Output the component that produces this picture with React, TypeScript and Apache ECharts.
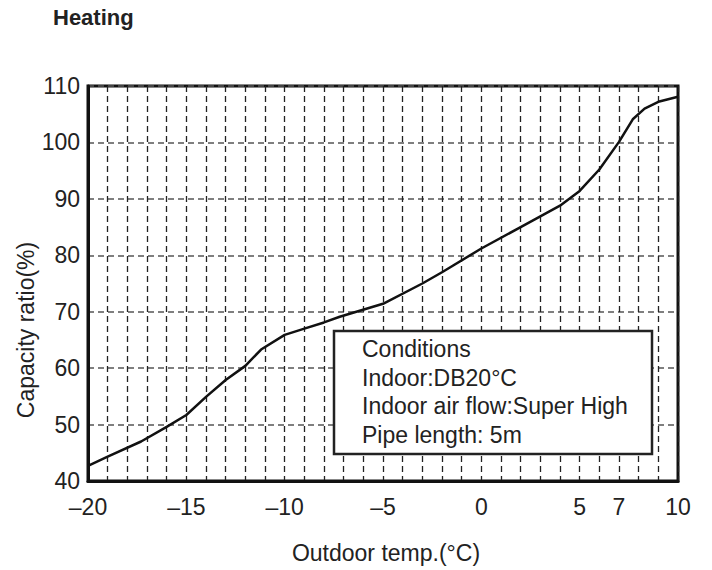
import React, { useEffect, useRef } from "react";
import * as echarts from "echarts";

const temps = [-20, -19, -17.3, -16, -15, -14, -13, -12, -11.2, -10, -9, -8, -7.2, -5, -3, -2, 0, 2, 4, 5, 6, 7, 7.7, 8.3, 9, 10];
const ratios = [42.7, 44.3, 47, 49.6, 51.7, 54.9, 57.9, 60.4, 63.3, 65.9, 67, 68.1, 69.1, 71.4, 75, 77, 81.2, 85, 88.8, 91.4, 95.2, 100.1, 104.1, 106, 107.2, 108.1];
const xTickLabels = [-20, -15, -10, -5, 0, 5, 7, 10];
const conditionLines = ["Conditions", "Indoor:DB20°C", "Indoor air flow:Super High", "Pipe length: 5m"];
const titleText = "Heating";
const xName = "Outdoor temp.(°C)";
const yName = "Capacity ratio(%)";

const FONT = '"Liberation Sans", Arial, Helvetica, sans-serif';
const TXT = "#222";

export default function App() {
  const ref = useRef<HTMLDivElement>(null);
  useEffect(() => {
    const chart = echarts.init(ref.current!, null, { renderer: "svg" });
    const condTexts = conditionLines.map((t, i) => ({
      type: "text",
      x: 362,
      y: 349 + i * 28.6,
      z: 101,
      style: { text: t, fill: TXT, font: `23px ${FONT}`, verticalAlign: "middle", align: "left" },
    }));
    chart.setOption({
      animation: false,
      backgroundColor: "#fff",
      grid: { left: 88, right: 34, top: 86, bottom: 89, show: true, borderColor: "#111", borderWidth: 3, backgroundColor: "transparent" },
      xAxis: {
        type: "value",
        min: -20,
        max: 10,
        interval: 1,
        axisLine: { show: true, onZero: false, lineStyle: { color: "#111", width: 3 } },
        axisTick: { show: false },
        axisLabel: {
          color: TXT,
          fontSize: 23,
          fontFamily: FONT,
          margin: 14,
          showMinLabel: true,
          showMaxLabel: true,
          formatter: (v: number) => (xTickLabels.includes(v) ? (v < 0 ? "\u2013" + Math.abs(v) : String(v)) : ""),
        },
        splitLine: { show: true, lineStyle: { color: "#222", width: 1.3, type: [6, 4] } },
      },
      yAxis: {
        type: "value",
        min: 40,
        max: 110,
        interval: 10,
        axisLine: { show: true, onZero: false, lineStyle: { color: "#111", width: 3 } },
        axisTick: { show: false },
        axisLabel: { color: TXT, fontSize: 23, fontFamily: FONT, margin: 8 },
        splitLine: { show: true, lineStyle: { color: "#555", width: 1.5, type: [6, 4] } },
      },
      series: [
        {
          type: "line",
          data: temps.map((t, i) => [t, ratios[i]]),
          showSymbol: false,
          lineStyle: { color: "#111", width: 2.5 },
          z: 5,
        },
      ],
      graphic: [
        { type: "text", x: 53, y: 17, style: { text: titleText, fill: TXT, font: `bold 22px ${FONT}`, verticalAlign: "middle", align: "left" } },
        { type: "text", x: 26, y: 330, rotation: Math.PI / 2, style: { text: yName, fill: TXT, font: `23px ${FONT}`, verticalAlign: "middle", align: "center" } },
        { type: "text", x: 386, y: 553, style: { text: xName, fill: TXT, font: `23px ${FONT}`, verticalAlign: "middle", align: "center" } },
        { type: "rect", x: 334, y: 331, z: 100, shape: { width: 318, height: 123 }, style: { fill: "#fff", stroke: "#222", lineWidth: 2.5 } },
        ...condTexts,
      ],
    });
    return () => chart.dispose();
  }, []);
  return <div ref={ref} style={{ position: "fixed", left: 0, top: 0, width: 712, height: 570 }} />;
}
